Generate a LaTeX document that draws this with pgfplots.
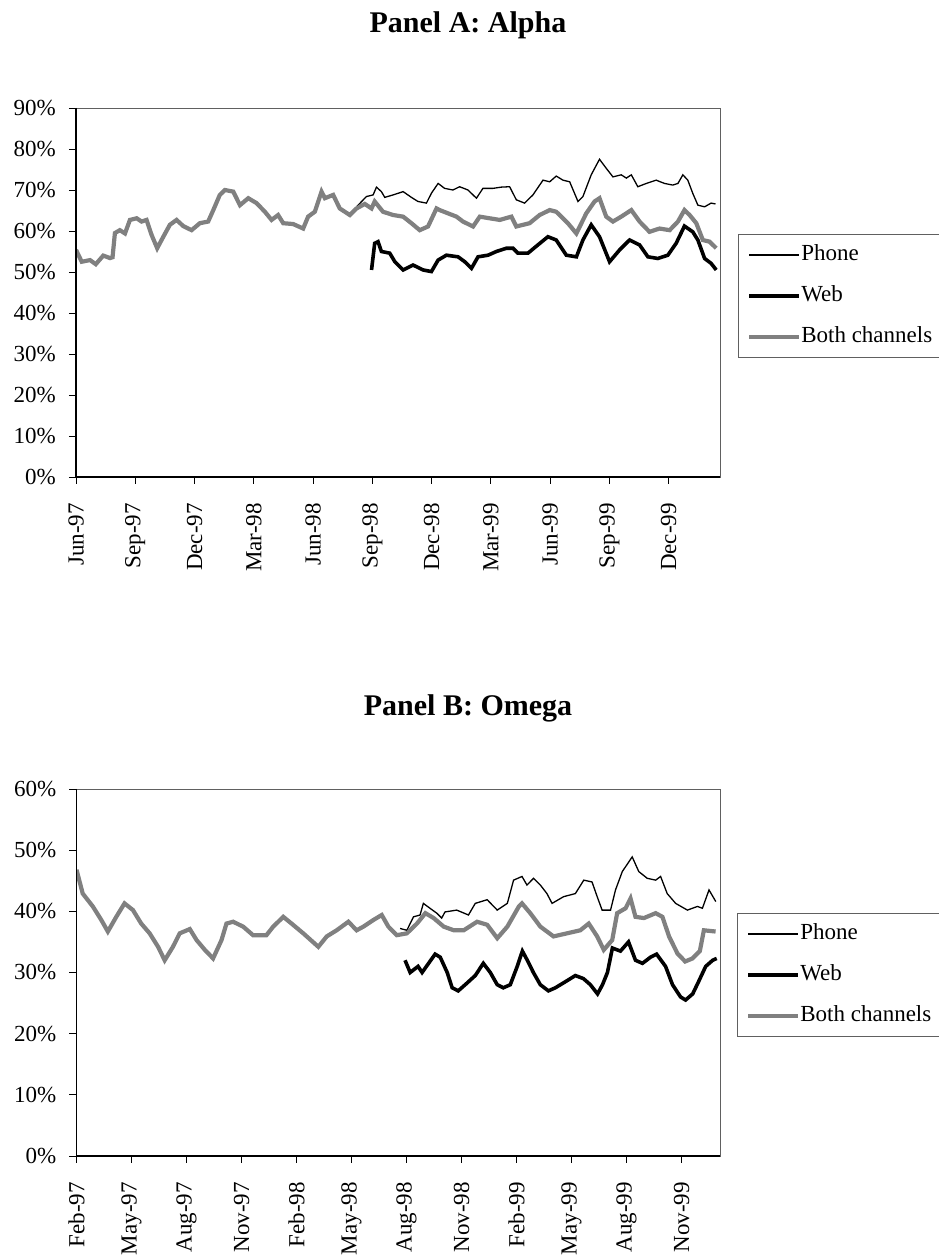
\documentclass[border=0pt]{standalone}
\usepackage{fontspec}
\setmainfont{Liberation Serif}
\usepackage{pgfplots}
\pgfplotsset{compat=1.18}
\definecolor{bothgray}{RGB}{128,128,128}
\newcommand{\tfont}{\fontsize{23}{23}\selectfont}

\begin{document}
\begin{tikzpicture}
\useasboundingbox (0pt,0pt) rectangle (939pt,1256pt);
\pgfplotsset{
  panel/.style={
    scale only axis,
    clip mode=individual,
    axis line style={draw=gray!75!black, line width=0.8pt},
    tick align=outside, major tick length=7pt,
    tick style={black, line width=0.9pt},
    xtick pos=left, ytick pos=left,
    ticklabel style={font=\tfont},
    yticklabel style={inner xsep=0pt, xshift=-13pt},
    xticklabel style={rotate=90, anchor=east, inner xsep=0pt, xshift=-19pt},
    legend cell align=left,
    legend image code/.code={\draw[##1] (0pt,0pt) -- (50pt,0pt);},
    legend style={anchor=north west, draw=gray!75!black, line width=0.8pt,
      font=\tfont, inner xsep=9pt, inner ysep=10pt, row sep=20pt,
      nodes={inner sep=0pt, text height=16pt, text depth=5pt},
      /tikz/every even column/.append style={column sep=5pt}},
  },
  phone/.style={black, line width=1.3pt},
  web/.style={black, line width=3.6pt},
  both/.style={bothgray, line width=4.2pt},
}
\node[font=\fontsize{30}{30}\selectfont\bfseries] at (468pt,1231pt) {Panel A: Alpha};
\node[font=\fontsize{30}{30}\selectfont\bfseries] at (468pt,548pt) {Panel B: Omega};

% ---------------- Panel A ----------------
\begin{axis}[panel,
  at={(76pt,779pt)}, anchor=south west, width=644pt, height=369pt,
  xmin=0, xmax=32.6, ymin=0, ymax=90,
  xtick={0,3,...,30},
  xticklabels={Jun-97,Sep-97,Dec-97,Mar-98,Jun-98,Sep-98,Dec-98,Mar-99,Jun-99,Sep-99,Dec-99},
  ytick={0,10,...,90},
  yticklabels={0\%,10\%,20\%,30\%,40\%,50\%,60\%,70\%,80\%,90\%},
  legend style={at={(1.0275,0.6585)}},
]
\addplot[phone] table {
14.20 65.9
14.70 68.4
15.04 68.8
15.21 70.7
15.46 69.6
15.63 68.2
16.05 68.8
16.56 69.6
16.98 68.2
17.31 67.2
17.74 66.8
17.99 69.2
18.33 71.6
18.66 70.4
19.08 70.0
19.42 70.8
19.84 70.0
20.27 68.0
20.60 70.4
21.11 70.4
21.53 70.7
21.95 70.8
22.29 67.6
22.71 66.8
23.13 68.8
23.64 72.4
23.98 72.0
24.31 73.4
24.65 72.4
24.99 72.0
25.41 67.2
25.66 68.4
26.08 73.7
26.50 77.5
26.84 75.3
27.18 73.2
27.60 73.7
27.86 72.9
28.11 73.7
28.44 70.8
28.87 71.6
29.37 72.4
29.79 71.6
30.21 71.2
30.47 71.6
30.72 73.7
30.97 72.4
31.22 69.2
31.48 66.3
31.82 65.9
32.15 66.8
32.37 66.6
};
\addlegendentry{Phone}
\addplot[web] table {
14.96 50.5
15.12 57.0
15.29 57.4
15.46 55.0
15.88 54.6
16.14 52.5
16.56 50.5
17.06 51.7
17.57 50.5
17.99 50.1
18.33 52.9
18.75 54.1
19.34 53.7
19.68 52.5
20.02 50.9
20.35 53.7
20.86 54.1
21.28 55.0
21.79 55.8
22.12 55.8
22.37 54.6
22.88 54.6
23.38 56.6
23.89 58.6
24.31 57.8
24.82 54.1
25.33 53.7
25.66 57.8
26.08 61.5
26.50 58.6
27.01 52.5
27.52 55.4
28.02 57.8
28.53 56.6
28.95 53.7
29.45 53.3
29.96 54.1
30.38 57.0
30.80 61.2
31.22 59.8
31.48 57.8
31.82 53.3
32.15 52.1
32.41 50.5
};
\addlegendentry{Web}
\addplot[both] table {
0 55.4
0.29 52.5
0.71 52.9
1.00 51.9
1.38 54.0
1.72 53.4
1.85 53.6
1.97 59.5
2.22 60.2
2.48 59.4
2.73 62.7
3.07 63.1
3.32 62.3
3.57 62.7
3.83 59.0
4.11 55.8
4.42 58.6
4.75 61.5
5.09 62.7
5.43 61.2
5.85 60.2
6.27 61.9
6.69 62.3
6.95 65.1
7.28 68.8
7.54 70.0
7.96 69.6
8.30 66.3
8.72 68.0
9.14 66.8
9.56 64.7
9.90 62.7
10.23 63.9
10.49 61.9
10.99 61.7
11.50 60.6
11.75 63.5
12.09 64.7
12.43 69.6
12.60 68.0
13.02 68.8
13.35 65.5
13.86 63.9
14.20 65.5
14.62 66.6
14.96 65.5
15.12 67.2
15.54 64.7
16.05 63.9
16.56 63.5
16.98 61.9
17.40 60.2
17.82 61.1
18.25 65.5
18.41 65.1
19.26 63.5
19.59 62.3
20.10 61.1
20.44 63.5
20.94 63.1
21.45 62.7
22.04 63.5
22.29 61.1
22.96 61.9
23.47 63.9
23.98 65.1
24.31 64.7
24.90 61.9
25.33 59.4
25.83 64.3
26.25 67.2
26.50 68.0
26.84 63.5
27.18 62.3
27.60 63.5
28.11 65.1
28.53 62.3
29.03 59.8
29.54 60.6
30.05 60.2
30.47 62.3
30.80 65.1
31.06 63.9
31.40 61.9
31.73 57.8
32.07 57.4
32.41 55.8
};
\addlegendentry{Both channels}
\draw[black, line width=1.6pt] (rel axis cs:0,1) -- (rel axis cs:0,0) -- (rel axis cs:1,0);
\end{axis}

% ---------------- Panel B ----------------
\begin{axis}[panel,
  at={(76.5pt,100pt)}, anchor=south west, width=643.5pt, height=367pt,
  xmin=0, xmax=35.1, ymin=0, ymax=60,
  xtick={0,3,...,33},
  xticklabels={Feb-97,May-97,Aug-97,Nov-97,Feb-98,May-98,Aug-98,Nov-98,Feb-99,May-99,Aug-99,Nov-99},
  ytick={0,10,...,60},
  yticklabels={0\%,10\%,20\%,30\%,40\%,50\%,60\%},
  legend style={at={(1.026,0.662)}},
]
\addplot[phone] table {
17.65 37.2
18.02 36.9
18.38 39.1
18.74 39.4
18.92 41.3
19.28 40.5
19.65 39.7
19.92 38.9
20.10 39.9
20.74 40.2
21.38 39.4
21.75 41.3
22.40 41.9
22.95 40.2
23.50 41.3
23.84 45.1
24.30 45.7
24.57 44.3
24.93 45.4
25.30 44.3
25.66 42.9
25.94 41.3
26.57 42.4
27.21 42.9
27.67 45.1
28.12 44.8
28.40 42.4
28.67 40.2
29.13 40.2
29.40 43.5
29.77 46.5
30.31 48.9
30.67 46.5
31.13 45.4
31.59 45.1
31.86 45.7
32.22 42.9
32.68 41.3
33.32 40.2
33.87 40.8
34.14 40.5
34.50 43.5
34.87 41.6
};
\addlegendentry{Phone}
\addplot[web] table {
17.92 32.0
18.20 30.0
18.63 31.0
18.85 30.0
19.56 33.0
19.84 32.5
20.22 30.0
20.49 27.5
20.82 27.0
21.20 28.0
21.75 29.5
22.19 31.5
22.57 30.0
22.95 28.0
23.28 27.5
23.66 28.0
24.04 31.0
24.32 33.5
24.59 32.0
24.92 30.0
25.30 28.0
25.74 27.0
26.12 27.5
26.67 28.5
27.21 29.5
27.65 29.0
28.03 28.0
28.42 26.5
28.69 28.0
28.96 30.0
29.23 34.0
29.67 33.5
30.11 35.0
30.49 32.0
30.87 31.5
31.31 32.5
31.64 33.0
32.13 31.0
32.51 28.0
32.95 26.0
33.22 25.5
33.61 26.5
33.93 28.5
34.32 31.0
34.70 32.0
34.92 32.3
};
\addlegendentry{Web}
\addplot[both] table {
0 46.8
0.34 42.9
0.89 40.8
1.35 38.6
1.71 36.7
2.17 39.1
2.62 41.3
3.08 40.2
3.53 38.0
3.99 36.4
4.45 34.2
4.81 32.0
5.26 34.2
5.63 36.4
6.18 37.1
6.55 35.3
7.00 33.7
7.45 32.3
7.91 35.3
8.18 38.0
8.54 38.3
9.09 37.5
9.63 36.1
10.36 36.1
10.73 37.5
11.28 39.1
11.73 38.0
12.37 36.4
13.19 34.2
13.65 35.9
14.19 36.9
14.83 38.3
15.28 36.9
15.65 37.5
16.20 38.6
16.65 39.4
17.01 37.5
17.47 36.1
18.02 36.4
18.57 38.0
19.03 39.7
19.48 38.9
20.03 37.5
20.58 36.9
21.12 36.9
21.85 38.3
22.40 37.8
22.95 35.6
23.50 37.5
24.13 40.8
24.30 41.3
24.75 39.7
25.30 37.5
26.02 35.9
26.75 36.4
27.48 36.9
27.94 38.0
28.40 35.9
28.76 33.7
29.22 35.3
29.49 39.7
29.95 40.5
30.22 42.1
30.49 39.1
30.95 38.9
31.59 39.7
31.96 39.1
32.32 35.9
32.78 33.1
33.20 31.8
33.60 32.3
34.00 33.5
34.22 36.9
34.86 36.7
};
\addlegendentry{Both channels}
\draw[black, line width=1.6pt] (rel axis cs:0,1) -- (rel axis cs:0,0) -- (rel axis cs:1,0);
\end{axis}
\end{tikzpicture}
\end{document}
